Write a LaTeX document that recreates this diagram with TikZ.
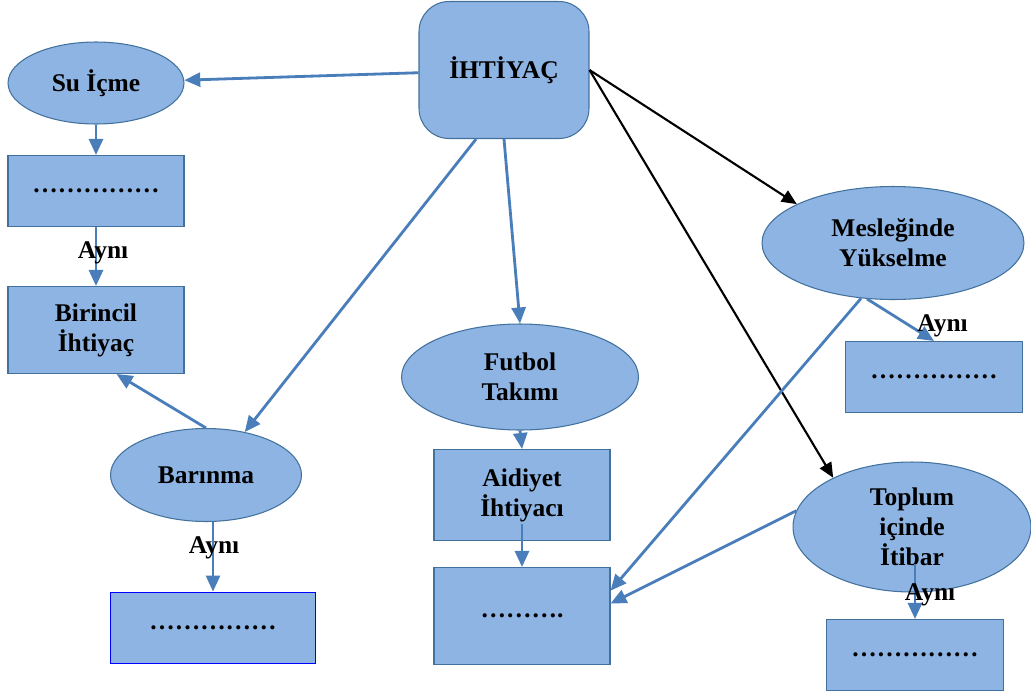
\documentclass[tikz,border=0pt]{standalone}
\usepackage{fontspec}
\setmainfont{Liberation Serif}
\usetikzlibrary{shapes.geometric,arrows.meta}
\definecolor{boxfill}{HTML}{8EB4E3}
\definecolor{boxline}{HTML}{41719C}
\definecolor{arrowblue}{HTML}{4A7EBB}
\tikzset{
  box/.style={draw=boxline, fill=boxfill, line width=0.6pt, inner sep=0pt, align=center,
    font=\bfseries\fontsize{14.5}{17}\selectfont},
  oval/.style={box, ellipse},
  link/.style={draw=arrowblue, line width=1.6pt, -{Triangle[length=0.32cm,width=0.28cm]}},
  blacklink/.style={draw=black, line width=1.2pt, -{Triangle[length=0.3cm,width=0.26cm]}},
  same/.style={font=\bfseries\fontsize{14.5}{17}\selectfont, inner sep=0pt}
}
\begin{document}
\begin{tikzpicture}[x=0.02cm,y=-0.02cm]
    \useasboundingbox (0,0) rectangle (1031,697);
    \node (need) [box, rounded corners=0.6cm, minimum width=3.4cm, minimum height=2.74cm] at (504,70) {İHTİYAÇ};
    \node (water) [oval, minimum width=3.52cm, minimum height=1.64cm] at (96,83) {Su İçme};
    \node (waterbox) [box, minimum width=3.52cm, minimum height=1.42cm] at (96,191) {……………};
    \node (primary) [box, minimum width=3.52cm, minimum height=1.74cm] at (96,330) {Birincil\\İhtiyaç};
    \node (shelter) [oval, minimum width=3.82cm, minimum height=1.86cm] at (206,475) {Barınma};
    \node (shelterbox) [box, draw=blue, line width=1.1pt, minimum width=4.1cm, minimum height=1.42cm] at (213,628) {……………};
    \node (team) [oval, minimum width=4.74cm, minimum height=2.12cm] at (520,377) {Futbol\\Takımı};
    \node (belong) [box, minimum width=3.52cm, minimum height=1.82cm] at (522,495) {Aidiyet\\İhtiyacı};
    \node (mid) [box, minimum width=3.52cm, minimum height=1.94cm] at (522,616) {……….};
    \node (career) [oval, minimum width=5.24cm, minimum height=2.26cm] at (893,243) {Mesleğinde\\Yükselme};
    \node (careerbox) [box, minimum width=3.54cm, minimum height=1.42cm] at (934,377) {……………};
    \node (respect) [oval, minimum width=4.76cm, minimum height=2.6cm] at (912,527) {Toplum\\içinde\\İtibar};
    \node (respectbox) [box, minimum width=3.54cm, minimum height=1.42cm] at (915,655) {……………};
    \draw[link] (need) -- (water);
    \draw[link] (water) -- (waterbox);
    \draw[link] (waterbox) -- (primary) node[same, pos=.44, xshift=0.14cm] {Aynı};
    \draw[link] (shelter.north) -- (primary.295);
    \draw[link] (need.248) -- (shelter.48);
    \draw[link] (shelterbox.north |- shelter.south) -- (shelterbox.north) node[same, pos=.375, xshift=0.02cm] {Aynı};
    \draw[link] (need.south) -- (team.north);
    \draw[link] (team.south) -- (belong.north);
    \draw[link] ([yshift=0.86cm]mid.north) -- (mid.north);
    \draw[blacklink] (need.east) -- (career.158);
    \draw[blacklink] (need.east) -- (respect.148);
    \draw[link] (career.240) -- (mid.16);
    \draw[link] (career.245) -- (careerbox.north) node[same, pos=.65, xshift=0.64cm] {Aynı};
    \draw[link] (respect.172) -- (mid.8);
    \draw[link] ([yshift=1.1cm]respectbox.north) -- (respectbox.north) node[same, pos=.56, xshift=0.3cm] {Aynı};
  \end{tikzpicture}
\end{document}
